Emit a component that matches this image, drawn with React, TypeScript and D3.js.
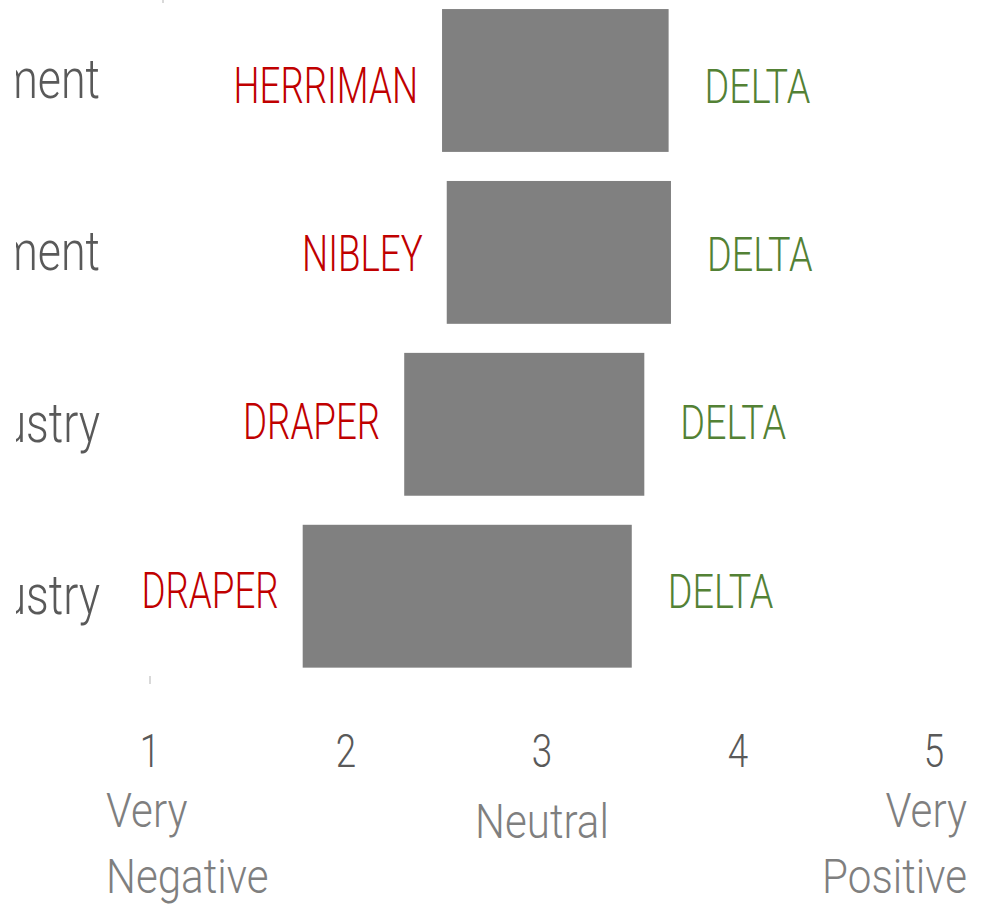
import React from "react";
import * as d3 from "d3";

const categories = ["Local Government", "State Government", "Local Industry", "State Industry"];
const lowValues = [2.49, 2.514, 2.297, 1.779];
const highValues = [3.646, 3.658, 3.522, 3.458];
const lowLabels = ["HERRIMAN", "NIBLEY", "DRAPER", "DRAPER"];
const highLabels = ["DELTA", "DELTA", "DELTA", "DELTA"];
const tickValues = [1, 2, 3, 4, 5];
const tickDescriptions = [["Very", "Negative"], [], ["Neutral"], [], ["Very", "Positive"]];

const W = 985;
const H = 908;
const FONT = "Roboto, 'Liberation Sans', sans-serif";
const SX = 0.75;

const CText = ({ x, y, anchor = "start", size, fill, sx = SX, weight = 300, children }: any) => (
  <text
    transform={`translate(${x},${y}) scale(${sx},1)`}
    textAnchor={anchor}
    fontSize={size}
    fill={fill}
    fontFamily={FONT}
    fontWeight={weight}
  >
    {children}
  </text>
);

export default function App() {
  const x = d3.scaleLinear().domain([1, 5]).range([150, 934]);
  const y = d3.scaleBand<string>().domain(categories).range([-20, 696.7]).padding(0.169);
  const labelY = d3.scalePoint<string>().domain(categories).range([85, 590]);
  const bw = y.bandwidth();

  return (
    <svg width={W} height={H} style={{ position: "absolute", left: 0, top: 0, background: "#fff" }}>
      <defs>
        <clipPath id="catclip">
          <rect x={16} y={0} width={W} height={H} />
        </clipPath>
      </defs>
      <rect x={0} y={0} width={W} height={H} fill="#fff" />

      {/* faint axis marks */}
      <line x1={x(1) + 13} x2={x(1) + 13} y1={0} y2={3} stroke="#d9d9d9" strokeWidth={2} />
      <line x1={x(1)} x2={x(1)} y1={676} y2={684} stroke="#d9d9d9" strokeWidth={2} />

      {/* category labels */}
      <g clipPath="url(#catclip)">
        {categories.map((c) => (
          <CText key={c} x={100} y={(y(c) as number) + bw / 2 + 17.5} anchor="end" size={56} fill="#595959" sx={0.8}>
            {c}
          </CText>
        ))}
      </g>

      {/* bars */}
      {categories.map((c, i) => (
        <rect
          key={c}
          x={x(lowValues[i])}
          y={y(c) as number}
          width={x(highValues[i]) - x(lowValues[i])}
          height={bw}
          fill="#808080"
        />
      ))}

      {/* low labels */}
      {categories.map((c, i) => (
        <CText key={c} x={x(lowValues[i]) - 24} y={(labelY(c) as number) + 17.5} anchor="end" size={49} fill="#C00000">
          {lowLabels[i]}
        </CText>
      ))}

      {/* high labels */}
      {categories.map((c, i) => (
        <CText key={c} x={x(highValues[i]) + 36} y={(labelY(c) as number) + 17.5} anchor="start" size={49} fill="#538135" sx={0.77}>
          {highLabels[i]}
        </CText>
      ))}

      {/* x tick numbers */}
      {tickValues.map((t) => (
        <CText key={t} x={x(t)} y={767} anchor="middle" size={46} fill="#595959" sx={0.8}>
          {t}
        </CText>
      ))}

      {/* tick descriptions */}
      {tickValues.map((t, i) => {
        const lines = tickDescriptions[i];
        if (!lines.length) return null;
        const first = i === 0;
        const last = i === tickValues.length - 1;
        const anchor = first ? "start" : last ? "end" : "middle";
        const tx = first ? x(t) - 44 : last ? x(t) + 33 : x(t);
        const y0 = lines.length === 1 ? 838 : 827;
        return (
          <g key={t}>
            {lines.map((ln, k) => (
              <CText key={k} x={tx} y={y0 + k * 66} anchor={anchor} size={49} fill="#7f7f7f" sx={0.86}>
                {ln}
              </CText>
            ))}
          </g>
        );
      })}
    </svg>
  );
}
